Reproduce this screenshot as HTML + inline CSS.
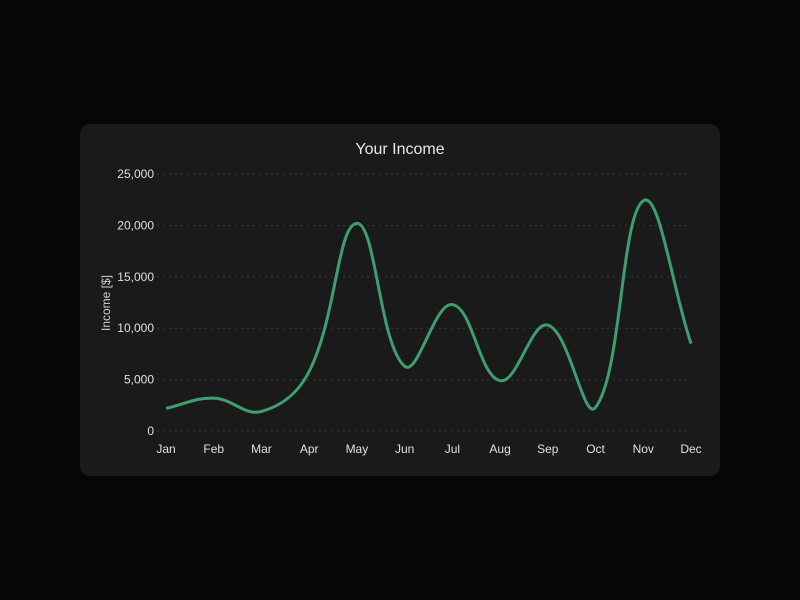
<!DOCTYPE html>
<html><head><meta charset="utf-8"><style>
body{margin:0;background:#060606;width:800px;height:600px;overflow:hidden;font-family:"Liberation Sans",sans-serif}
#card{position:absolute;left:80px;top:124px;width:640px;height:352px;background:#1a1a1a;border-radius:10px}
</style></head><body>
<div id="card"></div>
<svg id="chart" width="800" height="600" style="position:absolute;left:0;top:0">
<text x="400" y="154" fill="#e8e8e8" font-size="16" text-anchor="middle">Your Income</text>
<text transform="translate(110,303) rotate(-90)" fill="#d0d0d0" font-size="12" text-anchor="middle">Income [$]</text>
</svg>
<script>
const months=["Jan","Feb","Mar","Apr","May","Jun","Jul","Aug","Sep","Oct","Nov","Dec"];
const income=[2200,3200,1900,5800,20200,6300,12300,4900,10300,2300,22400,8500];
const yTicks=[0,5000,10000,15000,20000,25000];
const yTickLabels=["0","5,000","10,000","15,000","20,000","25,000"];
const svg=document.getElementById('chart');const NS="http://www.w3.org/2000/svg";
const x0=166,x1=691,y0=431,y1=174,ymax=25000;
const xs=i=>x0+i*(x1-x0)/(months.length-1);
const ys=v=>y0-v/ymax*(y0-y1);
function mk(t,a){const e=document.createElementNS(NS,t);for(const k in a)e.setAttribute(k,a[k]);svg.appendChild(e);return e;}
yTicks.forEach((v,i)=>{
 const l=mk('line',{x1:157,x2:x1,y1:ys(v),y2:ys(v),stroke:'#3a3a3a','stroke-dasharray':'2,4'});
 
 
 const t=mk('text',{x:154,y:ys(v)+4,fill:'#e0e0e0','font-size':12,'text-anchor':'end'});t.textContent=yTickLabels[i];
 
 
});
months.forEach((m,i)=>{
 const t=mk('text',{x:xs(i),y:453,fill:'#e0e0e0','font-size':12,'text-anchor':'middle'});t.textContent=m;
 
 
});
const P=income.map((v,i)=>[xs(i),ys(v)]);
const T=0.4;let d=`M${P[0][0]},${P[0][1]}`;
const cps=P.map((p,i)=>{const a=P[i-1]||p,b=P[i+1]||p;
 const d01=Math.hypot(p[0]-a[0],p[1]-a[1]),d12=Math.hypot(b[0]-p[0],b[1]-p[1]);
 const s=d01+d12||1,fa=T*d01/s,fb=T*d12/s;
 return {p:[p[0]-fa*(b[0]-a[0]),p[1]-fa*(b[1]-a[1])],n:[p[0]+fb*(b[0]-a[0]),p[1]+fb*(b[1]-a[1])]};});
for(let i=1;i<P.length;i++){const c1=cps[i-1].n,c2=cps[i].p;d+=` C${c1[0]},${c1[1]} ${c2[0]},${c2[1]} ${P[i][0]},${P[i][1]}`;}
const line=mk('path',{d:d,fill:'none',stroke:'#3d9e6e','stroke-width':3});


</script>
</body></html>
